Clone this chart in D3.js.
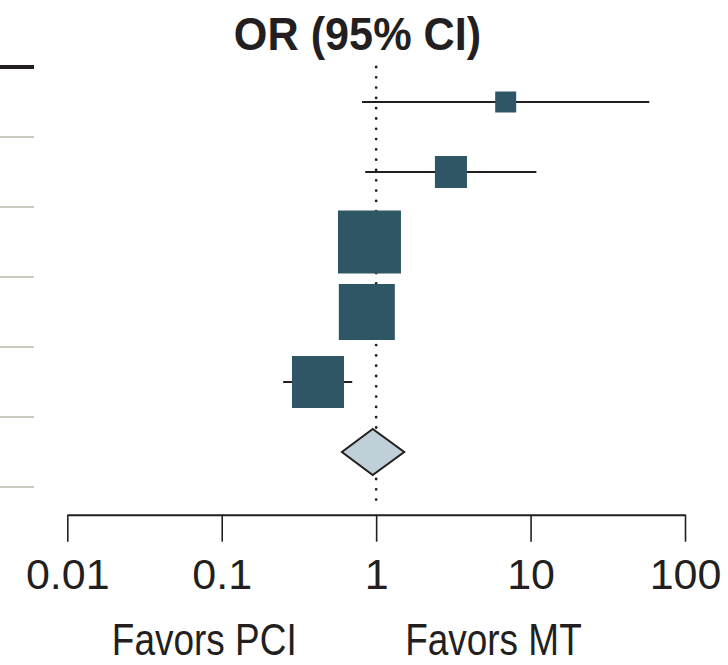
<!DOCTYPE html>
<html lang="en">
  <head>
    <meta charset="utf-8">
    <title>OR (95% CI)</title>
    <script src="https://d3js.org/d3.v7.min.js"></script>
    <style>
      body { margin: 0; background: #fff; }
      text { font-family: "Liberation Sans", Arial, sans-serif; fill: #231f20; }
    </style>
  </head>
  <body>
    <div id="chart"></div>
    <script>
      // rows of the forest plot (labels were cut off in the source, keys only)
      var studies = ["Study A", "Study B", "Study C", "Study D", "Study E"];
      var orValues = [6.9, 3.05, 0.905, 0.87, 0.42];
      var ciLow = [0.81, 0.85, 0.70, 0.68, 0.25];
      var ciHigh = [58.7, 10.9, 1.17, 1.12, 0.70];
      var weights = [3.9, 9.1, 35.2, 27.8, 24.0];
      var pooled = { label: "Overall", or: 0.95, low: 0.60, high: 1.52 };
      var tickValues = [0.01, 0.1, 1, 10, 100];
      var tickLabels = ["0.01", "0.1", "1", "10", "100"];

      var W = 728, H = 665;
      var svg = d3.select("#chart").append("svg")
        .attr("width", W).attr("height", H);

      var x = d3.scaleLog().domain([0.01, 100]).range([67.3, 685]);
      var rows = studies.concat([pooled.label]);
      var y = d3.scaleBand().domain(rows).range([67, 487]);
      var side = d3.scaleSqrt().domain([0, d3.max(weights)]).range([0, 63]);

      // title
      svg.append("g")
        .attr("transform", "translate(357.5,50) scale(0.92,1)")
        .append("text")
        .attr("text-anchor", "middle")
        .style("font-size", "47px")
        .style("font-weight", "bold")
        .text("OR (95% CI)");

      // stubs of the table row rules on the left
      var edges = rows.map(function (r) { return y(r); });
      edges.push(y.range()[1]);
      svg.selectAll("line.rule").data(edges).enter().append("line")
        .attr("class", "rule")
        .attr("x1", 0).attr("x2", 34)
        .attr("y1", function (d) { return d; }).attr("y2", function (d) { return d; })
        .attr("stroke", function (d, i) { return i == 0 ? "#231f20" : "#c9cbbf"; })
        .attr("stroke-width", function (d, i) { return i == 0 ? 4 : 2; });

      // null line
      svg.append("line")
        .attr("x1", x(1)).attr("x2", x(1))
        .attr("y1", 67).attr("y2", 509)
        .attr("stroke", "#231f20")
        .attr("stroke-width", 2.8)
        .attr("stroke-linecap", "round")
        .attr("stroke-dasharray", "0 10.3");

      var data = studies.map(function (s, i) {
        return { s: s, or: orValues[i], lo: ciLow[i], hi: ciHigh[i], w: weights[i] };
      });

      // confidence intervals
      svg.selectAll("line.ci").data(data).enter().append("line")
        .attr("class", "ci")
        .attr("x1", function (d) { return x(d.lo); })
        .attr("x2", function (d) { return x(d.hi); })
        .attr("y1", function (d) { return y(d.s) + y.bandwidth() / 2; })
        .attr("y2", function (d) { return y(d.s) + y.bandwidth() / 2; })
        .attr("stroke", "#231f20")
        .attr("stroke-width", 2);

      // weighted squares
      svg.selectAll("rect.pt").data(data).enter().append("rect")
        .attr("class", "pt")
        .attr("x", function (d) { return x(d.or) - side(d.w) / 2; })
        .attr("y", function (d) { return y(d.s) + y.bandwidth() / 2 - side(d.w) / 2; })
        .attr("width", function (d) { return side(d.w); })
        .attr("height", function (d) { return side(d.w); })
        .attr("fill", "#2f5664");

      // pooled diamond
      var cy = y(pooled.label) + y.bandwidth() / 2, dh = 23;
      svg.append("path")
        .attr("d", "M" + x(pooled.low) + "," + cy +
                   "L" + x(pooled.or) + "," + (cy - dh) +
                   "L" + x(pooled.high) + "," + cy +
                   "L" + x(pooled.or) + "," + (cy + dh) + "Z")
        .attr("fill", "#bfd0d9")
        .attr("stroke", "#231f20")
        .attr("stroke-width", 2)
        .attr("stroke-linejoin", "miter");

      // axis
      var axis = d3.axisBottom(x)
        .tickValues(tickValues)
        .tickFormat(function (d, i) { return tickLabels[i]; })
        .tickSizeInner(27).tickSizeOuter(0).tickPadding(17);
      var ax = svg.append("g").attr("transform", "translate(0,514.7)").call(axis);
      ax.select(".domain").attr("stroke", "#231f20").attr("stroke-width", 2);
      ax.selectAll(".tick line").attr("stroke", "#231f20").attr("stroke-width", 1.6);
      ax.selectAll(".tick text")
        .style("font-family", "'Liberation Sans', Arial, sans-serif")
        .style("font-size", "43px")
        .attr("fill", "#231f20");

      // direction labels
      svg.append("g")
        .attr("transform", "translate(" + (x(1) - 79.5) + ",655) scale(0.84,1)")
        .append("text").attr("text-anchor", "end")
        .style("font-size", "44px")
        .text("Favors PCI");
      svg.append("g")
        .attr("transform", "translate(" + (x(1) + 29) + ",655) scale(0.84,1)")
        .append("text").attr("text-anchor", "start")
        .style("font-size", "44px")
        .text("Favors MT");
    </script>
  </body>
</html>
